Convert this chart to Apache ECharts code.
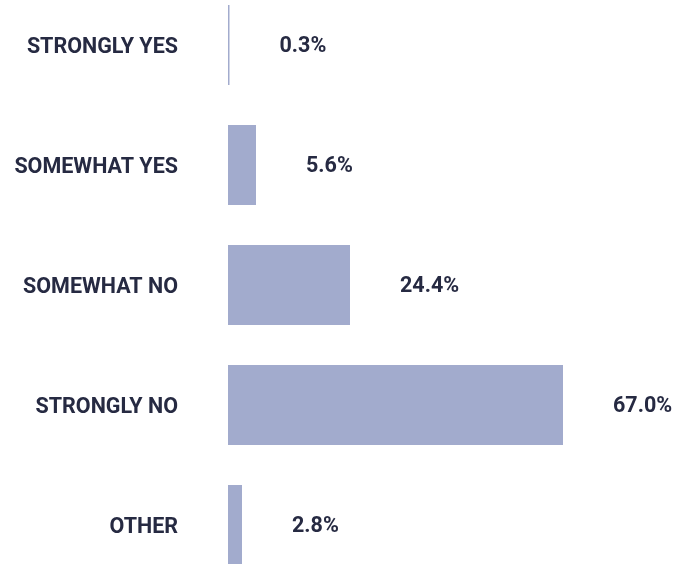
<!DOCTYPE html>
<html>
<head>
<meta charset="utf-8">
<script src="https://cdn.jsdelivr.net/npm/echarts@6/dist/echarts.min.js"></script>
<style>
html,body{margin:0;padding:0;background:#fff;}
#c{width:683px;height:564px;}
</style>
</head>
<body>
<div id="c"></div>
<script>
const categories = ['STRONGLY YES', 'SOMEWHAT YES', 'SOMEWHAT NO', 'STRONGLY NO', 'OTHER'];
const values = [0.3, 5.6, 24.4, 67.0, 2.8];

const chart = echarts.init(document.getElementById('c'), null, {renderer: 'canvas'});
const textColor = '#262a42';
const font = 'Roboto';
chart.setOption({
  animation: false,
  grid: {left: 228, width: 400, top: 45, bottom: 39, containLabel: false},
  xAxis: {type: 'value', min: 0, max: 80, show: false},
  yAxis: {
    type: 'category', data: categories, inverse: true, boundaryGap: false,
    axisLine: {show: false}, axisTick: {show: false}, splitLine: {show: false},
    axisLabel: {margin: 50, color: textColor, fontFamily: font, fontWeight: 'bold', fontSize: 21.5,
      formatter: v => '{a|' + v + '}',
      rich: {a: {color: textColor, fontFamily: font, fontWeight: 'bold', fontSize: 21.5, padding: [5, 0, 0, 0]}}}
  },
  series: [{
    type: 'bar', data: values, barWidth: 80,
    itemStyle: {color: '#a2abcd'},
    label: {show: true, position: 'right', distance: 50, offset: [0, 2], color: textColor, fontFamily: font, fontWeight: 'bold', fontSize: 21.5,
      formatter: p => p.value.toFixed(1) + '%'}
  }]
});
</script>
</body>
</html>
